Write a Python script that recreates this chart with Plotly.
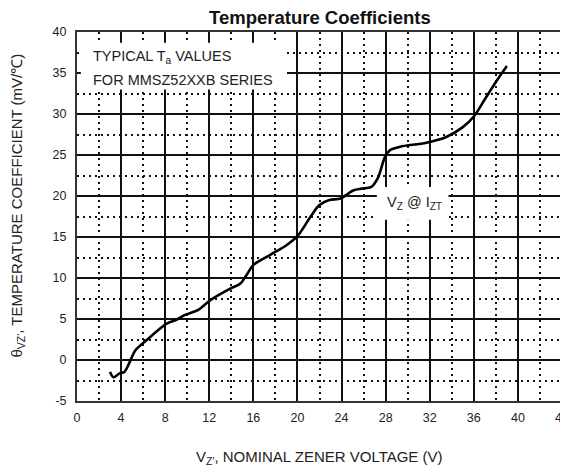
import plotly.graph_objects as go

# Curve (V_Z in volts, theta_VZ in mV/°C)
vz = [3.0, 3.3, 3.9, 4.3, 4.8, 5.3, 6.3, 8.1, 9.0, 9.8, 11.0, 12.1, 13.9, 14.8,
      15.4, 16.0, 17.5, 19.0, 20.0, 21.2, 22.0, 22.9, 23.9, 25.1, 25.8, 26.7,
      27.3, 27.95, 28.4, 29.3, 31.7, 33.5, 35.0, 36.0, 37.0, 38.0, 39.0]
theta = [-1.45, -2.1, -1.6, -1.45, -0.2, 1.2, 2.4, 4.4, 4.9, 5.5, 6.1, 7.3, 8.7, 9.3,
         10.4, 11.6, 12.8, 14.0, 15.1, 17.5, 18.9, 19.5, 19.7, 20.7, 20.9, 21.1,
         22.2, 24.8, 25.6, 26.0, 26.5, 27.2, 28.4, 29.7, 31.8, 33.9, 35.85]

x_ticks = list(range(0, 45, 4))
y_ticks = list(range(-5, 41, 5))

FONT = "Liberation Sans, Arial, sans-serif"
INK = "#111111"

# the page body has an 8px margin, so the figure is 8px smaller on each axis
fig = go.Figure()
fig.add_trace(go.Scatter(
    x=vz, y=theta, mode="lines",
    line=dict(color="black", width=2.6, shape="spline", smoothing=0.9),
    hoverinfo="skip", showlegend=False,
))

fig.update_layout(
    width=560, height=463,
    margin=dict(l=69, r=6, t=24, b=70, autoexpand=False),
    paper_bgcolor="white", plot_bgcolor="white",
    font=dict(family=FONT, color="#222222", size=12.5),
    showlegend=False,
    xaxis=dict(
        range=[0, 44], tickvals=x_ticks, ticktext=[str(v) for v in x_ticks],
        showgrid=True, gridcolor=INK, gridwidth=1.6,
        minor=dict(dtick=2, tick0=0, showgrid=True, gridcolor=INK, gridwidth=1.6,
                   griddash="1.6px,4.4px"),
        showline=True, linecolor="#333333", linewidth=2, mirror=True,
        zeroline=False, ticks="", ticklabelstandoff=4, automargin=False,
        ticklabeloverflow="allow",
        tickfont=dict(size=12.5, color="#222222"),
    ),
    yaxis=dict(
        range=[-5, 40], tickvals=y_ticks, ticktext=[str(v) for v in y_ticks],
        showgrid=True, gridcolor=INK, gridwidth=1.6,
        minor=dict(dtick=2.5, tick0=0, showgrid=True, gridcolor=INK, gridwidth=1.6,
                   griddash="1.6px,4.4px"),
        showline=True, linecolor="#333333", linewidth=2, mirror=True,
        zeroline=False, ticks="", ticklabelstandoff=6, automargin=False,
        ticklabeloverflow="allow",
        tickfont=dict(size=12.5, color="#222222"),
    ),
    shapes=[
        dict(type="rect", xref="x", yref="y", x0=0.35, x1=19.05, y0=33.0, y1=38.7,
             fillcolor="white", line=dict(width=0), layer="between"),
        dict(type="rect", xref="x", yref="y", x0=27.2, x1=33.7, y0=17.1, y1=21.1,
             fillcolor="white", line=dict(width=0), layer="between"),
    ],
    annotations=[
        dict(text="<b>Temperature Coefficients</b>", xref="paper", yref="paper",
             x=0.5, y=1, yshift=15, yanchor="middle", xanchor="center", showarrow=False,
             font=dict(size=18.5, color="#111111", family=FONT)),
        dict(text="TYPICAL T<sub>a</sub> VALUES", xref="x", yref="y", x=1.24, y=36.95,
             xanchor="left", yanchor="middle", showarrow=False,
             font=dict(size=14.5, color="#222222", family=FONT)),
        dict(text="FOR MMSZ52XXB SERIES", xref="x", yref="y", x=1.24, y=34.15,
             xanchor="left", yanchor="middle", showarrow=False,
             font=dict(size=14.5, color="#222222", family=FONT)),
        dict(text="V<sub>Z</sub> @ I<sub>ZT</sub>", xref="x", yref="y", x=30.6, y=19.1,
             xanchor="center", yanchor="middle", showarrow=False,
             font=dict(size=14.5, color="#222222", family=FONT)),
        dict(text="V<sub>Z'</sub>, NOMINAL ZENER VOLTAGE (V)", xref="paper", yref="paper",
             x=0.5, y=0, yshift=-56, xanchor="center", yanchor="middle", showarrow=False,
             font=dict(size=15, color="#222222", family=FONT)),
        dict(text="θ<sub>VZ'</sub>, TEMPERATURE COEFFICIENT (mV/℃)", xref="paper", yref="paper",
             x=0, xshift=-60, y=0.5, yshift=11, xanchor="center", yanchor="middle",
             textangle=-90, showarrow=False,
             font=dict(size=15, color="#222222", family=FONT)),
    ],
)

fig.write_html("out.html")
